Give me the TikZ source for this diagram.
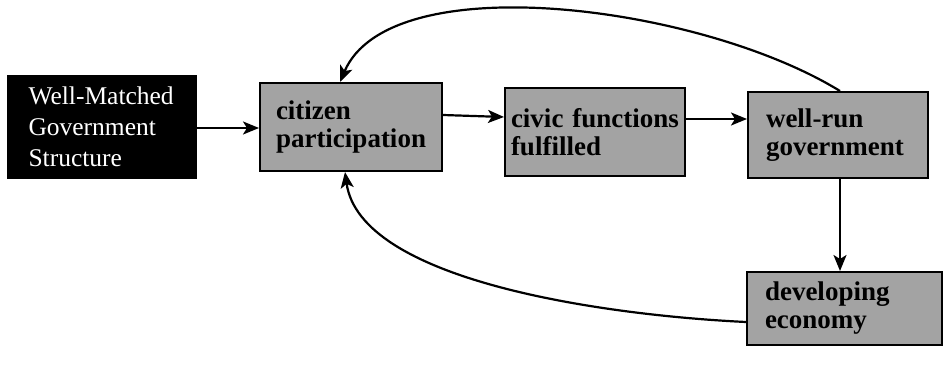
\documentclass[tikz,border=0pt]{standalone}
\usepackage{fontspec}
\setmainfont{Liberation Serif}
\usetikzlibrary{arrows.meta}
\begin{document}
\begin{tikzpicture}[x=1pt,y=-1pt,
  shaded/.style={draw=black,line width=2pt,fill=black!36,align=left,
    font=\fontsize{27}{28}\selectfont\bfseries,inner ysep=0pt,minimum height=#1},
  darkbox/.style={draw=black,fill=black,text=white,align=left,
    font=\fontsize{25.5}{31}\selectfont,inner ysep=0pt},
  flow/.style={line width=2.2pt,-{Stealth[length=16pt,width=13pt,inset=4pt]}}]
  \useasboundingbox (0,0) rectangle (948,366);

  % boxes
  \node[darkbox,text width=146pt,inner xsep=21.5pt,minimum height=103pt] (wmg) at (101.5,126.5)
    {Well-Matched\\Government\\Structure};
  \node[shaded=88pt,text width=150pt,inner xsep=16pt] (cit) at (351,127)
    {citizen\\participation};
  \node[shaded=88pt,text width=168pt,inner xsep=6pt] (civ) at (595,132)
    {civic functions\\fulfilled};
  \node[shaded=86pt,text width=144pt,inner xsep=18pt] (wrg) at (838,135)
    {well-run\\government};
  \node[shaded=73pt,text width=159pt,inner xsep=18pt] (dev) at (844.5,308.5)
    {developing\\economy};

  % forward chain
  \draw[flow] (wmg.east |- 0,128) -- (cit.west |- 0,128);
  \draw[flow] (cit.east |- 0,115) -- (civ.west |- 0,117);
  \draw[flow] (civ.east |- 0,119) -- (wrg.west |- 0,119);
  \draw[flow] (wrg.south -| 840,0) -- (dev.north -| 840,0);

  % feedback loops
  \draw[flow] (wrg.north -| 840,0) .. controls (700,5) and (390,-35) .. (cit.north -| 340,0);
  \draw[flow] (dev.west |- 0,322) .. controls (600,315) and (360,280) .. (cit.south -| 345,0);
\end{tikzpicture}
\end{document}
